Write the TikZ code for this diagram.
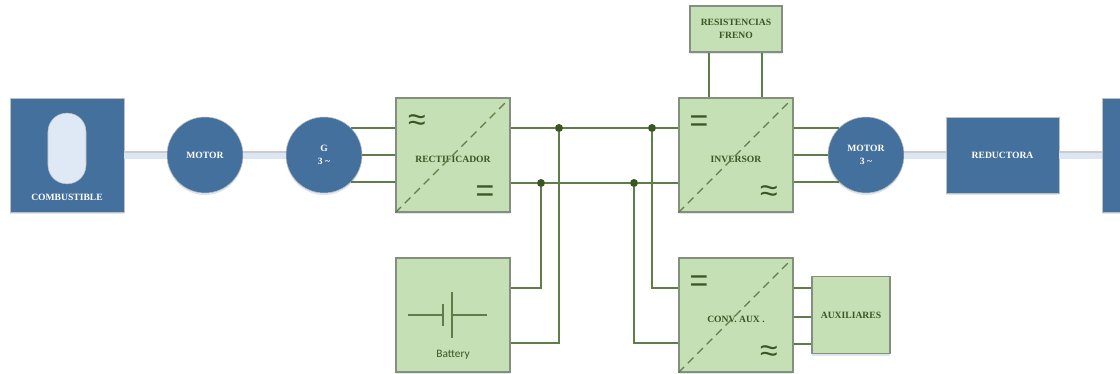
\documentclass[tikz,border=0pt]{standalone}
\usepackage{amsmath}
\usepackage{amssymb}
\usepackage{fontspec}
\usetikzlibrary{shadows}
\setmainfont{Liberation Serif}
\newfontfamily\battfont{Carlito}
\newfontfamily\signfont{Liberation Sans}

\definecolor{boxblue}{HTML}{44709D}
\definecolor{boxgreen}{HTML}{C5E0B4}
\definecolor{wiregreen}{HTML}{5F7D49}
\definecolor{dotgreen}{HTML}{385723}
\definecolor{edgegray}{HTML}{848F80}
\definecolor{shaftblue}{HTML}{DAE6F2}
\definecolor{pillblue}{HTML}{DEE9F5}

\tikzset{
  node distance=0pt,
  softshadow/.style={drop shadow={shadow xshift=0pt,shadow yshift=-1.5pt,opacity=.18,fill=boxblue}},
  txt/.style={font=\bfseries\fontsize{7.2}{9.5}\selectfont,align=center,inner sep=0pt},
  bluebox/.style={draw=gray!50,fill=boxblue,text=white,softshadow,inner sep=0pt,txt},
  bluecirc/.style={bluebox,circle,minimum size=57pt},
  greenbox/.style={draw=edgegray,line width=.9pt,fill=boxgreen,text=dotgreen,inner sep=0pt,txt,softshadow},
  convbox/.style={greenbox,minimum size=85.5pt},
  wire/.style={draw=wiregreen,line width=1pt},
  shaft/.style={draw=shaftblue,line width=5.5pt,postaction={draw=gray!40,line width=1pt,transform canvas={yshift=2.3pt}}},
  dot/.style={circle,fill=dotgreen,minimum size=6pt,inner sep=0pt},
  diag/.style={draw=wiregreen,dash pattern=on 6pt off 4pt,line width=.9pt},
  sign/.style={font=\signfont\fontsize{24}{24}\selectfont,text=dotgreen,inner sep=0pt}
}

\begin{document}
\begin{tikzpicture}
      \useasboundingbox (-50.25pt,116.25pt) rectangle (789.75pt,-164.25pt);

      \node [bluebox,minimum size=85.5pt] (comb) {};
      \node [bluecirc,right of=comb,xshift=103.5pt] (mot) {MOTOR};
      \node [bluecirc,right of=mot,xshift=89.25pt] (gen) {G\\3 \textasciitilde};
      \node [convbox,right of=gen,xshift=96.75pt] (rect) {};
      \node [convbox,right of=rect,xshift=212.25pt] (inv) {};
      \node [bluecirc,right of=inv,xshift=97.5pt] (mot3) {MOTOR\\3 \textasciitilde};
      \node [bluebox,minimum width=84.75pt,minimum height=57pt,right of=mot3,xshift=102.4pt] (redu) {REDUCTORA};
      \node [bluebox,minimum width=14pt,minimum height=85.5pt,right of=redu,xshift=81.5pt] (out) {};
      \node [convbox,below of=rect,yshift=-120pt] (bat) {};
      \node [convbox,below of=inv,yshift=-120pt] (conv) {};
      \node [greenbox,minimum width=58.5pt,minimum height=57.75pt,right of=conv,xshift=86.25pt] (aux) {AUXILIARES};
      \node [greenbox,minimum width=69pt,minimum height=34.5pt,above of=inv,yshift=94.5pt] (res) {RESISTENCIAS\\FRENO};

      \node [above of=comb,yshift=4.9pt,draw=gray!50,fill=pillblue,minimum width=28.5pt,minimum height=53pt,rounded corners=14pt] (pill) {};
      \node [txt,text=white,below of=comb,yshift=-31.5pt] (combl) {COMBUSTIBLE};

      \node [txt,text=dotgreen,below of=rect,yshift=-3pt] (rectl) {RECTIFICADOR};
      \node [txt,text=dotgreen,below of=inv,yshift=-3pt] (invl) {INVERSOR};
      \node [txt,text=dotgreen,below of=conv,yshift=-3.5pt] (convl) {CONV. AUX .};
      \node [below of=bat,yshift=-30pt,text=dotgreen,inner sep=0pt,font=\battfont\fontsize{8.5}{10}\selectfont] (batl) {Battery};

      \node [dot,right of=rect,xshift=79.5pt,yshift=20.25pt] (j1) {};
      \node [dot,right of=j1,xshift=69.75pt] (j2) {};
      \node [dot,right of=rect,xshift=66pt,yshift=-21pt] (j3) {};
      \node [dot,right of=j3,xshift=69.75pt] (j4) {};

      \node [sign,left of=rect,xshift=-27pt,yshift=24pt] (s1) {≈};
      \node [sign,right of=rect,xshift=24pt,yshift=-29pt] (s2) {=};
      \node [sign,left of=inv,xshift=-27.75pt,yshift=23.5pt] (s3) {=};
      \node [sign,right of=inv,xshift=24.75pt,yshift=-29pt] (s4) {≈};
      \node [sign,left of=conv,xshift=-27.75pt,yshift=23.5pt] (s5) {=};
      \node [sign,right of=conv,xshift=24.75pt,yshift=-29pt] (s6) {≈};

      \draw[diag] (rect.south west) -- ([xshift=-3pt,yshift=-3pt]rect.north east);
      \draw[diag] (inv.south west) -- ([xshift=-3pt,yshift=-3pt]inv.north east);
      \draw[diag] (conv.south west) -- ([xshift=-3pt,yshift=-3pt]conv.north east);

      \draw[shaft] (comb) -- (mot);
      \draw[shaft] (mot) -- (gen);
      \draw[shaft] (mot3) -- (redu);
      \draw[shaft] (redu) -- (out);

      \draw[wire] (gen.45) -- (gen.45 -| rect.west);
      \draw[wire] (gen) -- (rect.west);
      \draw[wire] (gen.-45) -- (gen.-45 -| rect.west);

      \draw[wire] (rect.east |- j1) -- (j1) -- (j2) -- (inv.west |- j2);
      \draw[wire] (rect.east |- j3) -- (j3) -- (j4) -- (inv.west |- j4);
      \draw[wire] (j1) |- ([yshift=-21pt]bat.east);
      \draw[wire] (j3) |- ([yshift=20.25pt]bat.east);
      \draw[wire] (j2) |- ([yshift=20.25pt]conv.west);
      \draw[wire] (j4) |- ([yshift=-21pt]conv.west);

      \draw[wire] (mot3.135) -- (mot3.135 -| inv.east);
      \draw[wire] (mot3) -- (inv.east);
      \draw[wire] (mot3.-135) -- (mot3.-135 -| inv.east);

      \draw[wire] ([xshift=-20.25pt]res.south) -- ([xshift=-20.25pt]inv.north);
      \draw[wire] ([xshift=19.5pt]res.south) -- ([xshift=19.5pt]inv.north);

      \draw[wire] ([yshift=20.25pt]conv.east) -- ([yshift=20.25pt]conv.east -| aux.west);
      \draw[wire] ([yshift=-1.5pt]conv.east) -- ([yshift=-1.5pt]conv.east -| aux.west);
      \draw[wire] ([yshift=-21.75pt]conv.east) -- ([yshift=-21.75pt]conv.east -| aux.west);

      \draw[wire] ([xshift=-33.75pt]bat.center) -- ([xshift=-7.5pt]bat.center);
      \draw[wire] ([xshift=-7.5pt,yshift=8.5pt]bat.center) -- ([xshift=-7.5pt,yshift=-8.5pt]bat.center);
      \draw[wire] ([xshift=-.75pt,yshift=17.25pt]bat.center) -- ([xshift=-.75pt,yshift=-17.25pt]bat.center);
      \draw[wire] ([xshift=-.75pt]bat.center) -- ([xshift=25.5pt]bat.center);
    \end{tikzpicture}
\end{document}
